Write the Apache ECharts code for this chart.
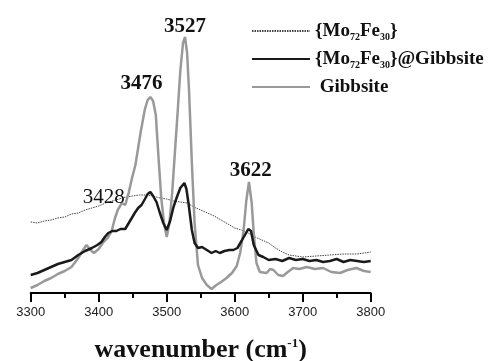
<!DOCTYPE html>
<html>
<head>
<meta charset="utf-8">
<script src="https://cdn.jsdelivr.net/npm/echarts@6/dist/echarts.min.js"></script>
<style>html,body{margin:0;padding:0;background:#fff;}#c{width:490px;height:361px;}</style>
</head>
<body>
<div id="c"></div>
<script>
// Series names
var seriesNames = ['{Mo72Fe30}', '{Mo72Fe30}@Gibbsite', ' Gibbsite'];

// {Mo72Fe30} (dotted)
var moWn = [3300,3310,3320,3330,3340,3350,3360,3370,3380,3390,3400,3410,3420,3430,3440,3450,3460,3470,3480,3490,3500,3510,3520,3530,3540,3550,3560,3570,3580,3590,3600,3610,3620,3630,3640,3650,3660,3670,3680,3690,3700,3720,3740,3760,3780,3800];
var moVal = [71,70,72,73,75,76,79,80,83,85,87,90,92,94,96,97,98,98,97,95,94,92,91,90,86,83,80,77,73,69,65,63,60,56,53,50,45,41,38,37,36,37,38,39,39,41];

// {Mo72Fe30}@Gibbsite (black)
var mgWn = [3300,3310,3320,3330,3340,3350,3360,3370,3380,3390,3398,3404,3409,3414,3420,3426,3432,3439,3446,3453,3458,3463,3468,3472,3476,3480,3485,3490,3495,3500,3505,3510,3515,3520,3526,3529,3532,3537,3541,3546,3552,3559,3566,3572,3578,3585,3592,3598,3604,3610,3615,3620,3624,3628,3635,3642,3650,3660,3670,3680,3690,3700,3710,3720,3730,3740,3750,3760,3770,3780,3790,3800];
var mgVal = [18,20,23,26,29,31,33,38,42,45,48,51,56,60,62,62,64,64,72,80,85,88,94,99,101,97,91,80,70,63,72,86,96,105,110,104,90,63,50,45,46,43,40,42,40,42,43,43,45,52,58,64,62,48,38,36,33,34,32,35,33,34,32,33,31,32,34,31,33,32,31,32];

// Gibbsite (grey)
var gWn = [3300,3310,3320,3330,3340,3350,3360,3370,3376,3382,3388,3393,3400,3406,3413,3419,3424,3428,3434,3439,3444,3449,3454,3458,3462,3468,3472,3476,3480,3484,3488,3492,3496,3500,3504,3508,3512,3516,3520,3524,3527,3530,3533,3537,3541,3546,3552,3559,3566,3573,3580,3588,3596,3603,3608,3613,3617,3621,3625,3628,3632,3637,3647,3652,3657,3664,3671,3678,3686,3695,3706,3718,3730,3742,3755,3766,3779,3790,3800];
var gVal = [5,8,12,15,19,22,26,35,42,48,43,40,44,50,55,62,75,83,90,88,100,115,128,145,162,184,193,196,192,178,135,95,70,56,70,100,140,180,222,250,256,240,200,130,70,28,15,8,4,8,11,15,20,27,40,62,92,111,90,60,30,21,20,24,23,18,17,21,25,24,26,24,25,21,20,23,25,22,21];

// Peak annotations (on Gibbsite curve)
var peakWn = [3428, 3476, 3527, 3622];
var peakLabels = ['3428', '3476', '3527', '3622'];

// x-axis
var xMin = 3300, xMax = 3800, xStep = 100;

function zip(a, b) { return a.map(function (v, i) { return [v, b[i]]; }); }
function valueAt(wn, arrW, arrV) {
  var best = 0, d = 1e9;
  for (var i = 0; i < arrW.length; i++) { var dd = Math.abs(arrW[i] - wn); if (dd < d) { d = dd; best = i; } }
  return arrV[best];
}

var labelOffsets = [[-14, -13], [-9, -13.5], [0, -10], [1, -11]];
var labelWeights = ['normal', 'bold', 'bold', 'bold'];
var markData = peakWn.map(function (w, i) {
  return {
    coord: [w, valueAt(w, gWn, gVal)],
    label: { formatter: peakLabels[i], offset: labelOffsets[i], fontWeight: labelWeights[i] }
  };
});

var serif = '"Liberation Serif", "Times New Roman", serif';

var chart = echarts.init(document.getElementById('c'));
chart.setOption({
  animation: false,
  backgroundColor: '#fff',
  grid: { left: 30.7, right: 119.3, top: 13, bottom: 68, containLabel: false, outerBoundsMode: 'none' },
  legend: {
    orient: 'vertical',
    left: 251,
    top: 20,
    padding: 0,
    itemWidth: 58,
    itemHeight: 14,
    itemGap: 6,
    itemStyle: { opacity: 0 },
    data: seriesNames,
    formatter: function (name) {
      if (name === seriesNames[0]) return '{Mo{s|72}Fe{s|30}}';
      if (name === seriesNames[1]) return '{Mo{s|72}Fe{s|30}}@Gibbsite';
      return name;
    },
    textStyle: {
      fontFamily: serif, fontWeight: 'bold', fontSize: 19, color: '#111', lineHeight: 22,
      rich: {
        s: { fontFamily: serif, fontWeight: 'bold', fontSize: 10, color: '#111', lineHeight: 22, verticalAlign: 'bottom', padding: [6, 0, 0, 0] }
      }
    }
  },
  xAxis: {
    type: 'value',
    min: xMin, max: xMax, interval: xStep,
    name: 'wavenumber (cm{sup|-1})',
    nameLocation: 'middle',
    nameGap: 44,
    nameTextStyle: {
      fontFamily: serif, fontWeight: 'bold', fontSize: 26, color: '#111', lineHeight: 26,
      rich: { sup: { fontFamily: serif, fontWeight: 'bold', fontSize: 13, color: '#111', verticalAlign: 'top', padding: [0, 0, 10, 0] } }
    },
    axisLine: { show: true, onZero: false, lineStyle: { color: '#000', width: 2 } },
    axisTick: { show: true, inside: false, length: 9, lineStyle: { color: '#000', width: 2 } },
    minorTick: { show: true, splitNumber: 2, length: 5, lineStyle: { color: '#000', width: 2 } },
    axisLabel: {
      fontFamily: '"Liberation Sans", Arial, sans-serif', fontSize: 13, color: '#222', margin: 13,
      formatter: function (v) { return String(v); }
    },
    splitLine: { show: false }
  },
  yAxis: { type: 'value', min: 0, max: 280, show: false },
  series: [
    {
      name: seriesNames[0], type: 'line', data: zip(moWn, moVal), showSymbol: false, symbol: 'none',
      lineStyle: { color: '#444', width: 1, type: [1.5, 1] }, itemStyle: { color: '#444' }, z: 2
    },
    {
      name: seriesNames[1], type: 'line', data: zip(mgWn, mgVal), showSymbol: false, symbol: 'none',
      lineStyle: { color: '#1a1a1a', width: 2.5 }, itemStyle: { color: '#1a1a1a' }, z: 4
    },
    {
      name: seriesNames[2], type: 'line', data: zip(gWn, gVal), showSymbol: false, symbol: 'none',
      lineStyle: { color: '#999', width: 2.5 }, itemStyle: { color: '#999' }, z: 3,
      markPoint: {
        symbol: 'circle', symbolSize: 0,
        label: { show: true, position: 'inside', fontFamily: serif, fontSize: 21, color: '#111' },
        data: markData
      }
    }
  ]
});
</script>
</body>
</html>
